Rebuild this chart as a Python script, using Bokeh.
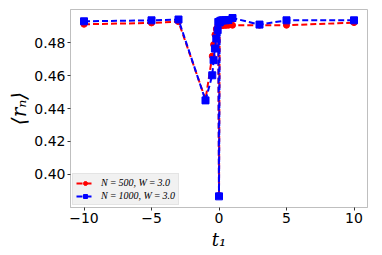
from bokeh.plotting import figure
from bokeh.models import FixedTicker, Legend, LegendItem, Range1d
from bokeh.embed import file_html
from bokeh.resources import INLINE

t1 = [-10, -5, -3, -1, -0.5, -0.4, -0.3, -0.2, -0.1, -0.05, 0, 0.05, 0.1, 0.2, 0.3, 0.5, 0.7, 1, 3, 5, 10]
r_500 = [0.4914, 0.4922, 0.4930, 0.4455, 0.4720, 0.4790, 0.4850, 0.4885, 0.4900, 0.4910, 0.3870, 0.4905,
         0.4905, 0.4906, 0.4906, 0.4907, 0.4908, 0.4908, 0.4908, 0.4908, 0.4924]
r_1000 = [0.4932, 0.4938, 0.4943, 0.4450, 0.4603, 0.4695, 0.4766, 0.4827, 0.4878, 0.4928, 0.3865, 0.4925,
          0.4935, 0.4937, 0.4938, 0.4938, 0.4940, 0.4952, 0.4912, 0.4938, 0.4938]
label_500 = "N\u2009=\u2009500, W\u2009=\u20093.0"
label_1000 = "N\u2009=\u20091000, W\u2009=\u20093.0"
x_ticks = [-10, -5, 0, 5, 10]
y_ticks = [0.40, 0.42, 0.44, 0.46, 0.48]

p = figure(width=374, height=253, output_backend="svg", toolbar_location=None,
           x_range=Range1d(-11, 11), y_range=Range1d(0.3797, 0.5004),
           min_border_left=70, min_border_right=7, min_border_top=9, min_border_bottom=46)
p.grid.visible = False
p.outline_line_color = "#bfbfbf"
p.outline_line_width = 1

red_line = p.line(t1, r_500, line_color="#ff0000", line_width=2, line_dash="6 3")
red_pts = p.scatter(t1, r_500, marker="circle", size=6, fill_color="#ff0000", line_color="#ff0000")
blue_line = p.line(t1, r_1000, line_color="#0000ff", line_width=2, line_dash="6 3")
blue_pts = p.scatter(t1, r_1000, marker="square", size=7, fill_color="#0000ff", line_color="#0000ff")

for ax in (p.xaxis[0], p.yaxis[0]):
    ax.axis_line_color = "#bfbfbf"
    ax.major_tick_line_color = "#333333"
    ax.major_tick_in = 0
    ax.major_tick_out = 3
    ax.minor_tick_line_color = None
    ax.major_label_text_font = "DejaVu Sans"
    ax.major_label_text_font_size = "14px"
    ax.major_label_text_color = "#000000"
    ax.axis_label_text_font = "DejaVu Serif"
    ax.axis_label_text_font_style = "italic"
    ax.axis_label_text_color = "#000000"
    ax.major_label_standoff = 2

p.xaxis.axis_label_text_font_size = "18px"
p.yaxis.axis_label_text_font_size = "20px"
p.xaxis.ticker = FixedTicker(ticks=x_ticks)
p.xaxis.major_label_overrides = {-10: "\u221210", -5: "\u22125", 0: "0", 5: "5", 10: "10"}
p.yaxis.ticker = FixedTicker(ticks=y_ticks)
p.yaxis.major_label_overrides = {v: f"{v:.2f}" for v in y_ticks}
p.xaxis.axis_label = "t\u2081"
p.yaxis.axis_label = "\u27e8r\u2099\u27e9"
p.xaxis.axis_label_standoff = 3
p.yaxis.axis_label_standoff = 0

legend = Legend(items=[
    LegendItem(label=label_500, renderers=[red_line, red_pts]),
    LegendItem(label=label_1000, renderers=[blue_line, blue_pts]),
], location="bottom_left")
legend.label_text_font = "Liberation Serif"
legend.label_text_font_style = "italic"
legend.label_text_font_size = "10px"
legend.label_text_color = "#000000"
legend.background_fill_color = "#f0f0f0"
legend.background_fill_alpha = 0.9
legend.border_line_color = "#d8d8d8"
legend.glyph_width = 18
legend.glyph_height = 10
legend.label_height = 10
legend.spacing = 2
legend.padding = 3
legend.margin = 2
legend.label_standoff = 7
p.add_layout(legend)

open("out.html", "w").write(file_html(p, INLINE))
